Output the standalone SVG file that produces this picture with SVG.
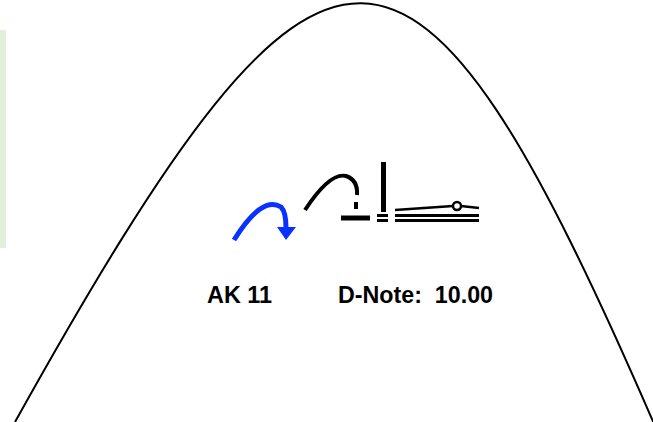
<svg xmlns="http://www.w3.org/2000/svg" width="653" height="422" viewBox="0 0 653 422">
<style>
.curve{fill:none;stroke:#000;stroke-width:2}
.sym{fill:none;stroke:#000;stroke-width:4}
.lbl{font-family:"Liberation Sans",Arial,sans-serif;font-weight:bold;font-size:23px;fill:#000}
</style>
<rect x="0" y="0" width="653" height="422" fill="#fff"/>
<g id="sidebar"><rect x="0" y="30" width="6" height="218" fill="#e2efda"/></g>
<g id="parabola"><path class="curve" d="M15,422 C328,-140 412,-134 655,426"/></g>
<g id="arrow">
<path d="M234,240 Q262,195 281,207 Q286,212 286,228" fill="none" stroke="#0a32ff" stroke-width="5"/>
<polygon points="277,227 296,227 286,240" fill="#0a32ff"/>
</g>
<g id="symbols">
<path class="sym" d="M305,210 Q330,172 346,176 Q358,180 357,195"/>
<line x1="356" y1="202" x2="356" y2="209" stroke="#000" stroke-width="4"/>
<line x1="341" y1="218" x2="370" y2="218" stroke="#000" stroke-width="5"/>
<line x1="383.5" y1="162" x2="383.5" y2="212" stroke="#000" stroke-width="5"/>
<line x1="377" y1="215.5" x2="388" y2="215.5" stroke="#000" stroke-width="3"/>
<line x1="377" y1="220.5" x2="388" y2="220.5" stroke="#000" stroke-width="3"/>
<line x1="395" y1="215.5" x2="479" y2="215.5" stroke="#000" stroke-width="3"/>
<line x1="395" y1="220.5" x2="479" y2="220.5" stroke="#000" stroke-width="3"/>
<path d="M395,210 L453,206 M461,206 L479,208" fill="none" stroke="#000" stroke-width="2.5"/>
<circle cx="457" cy="206" r="4" fill="none" stroke="#000" stroke-width="2.5"/>
</g>
<g id="labels">
<text class="lbl" x="207" y="303" textLength="65" lengthAdjust="spacingAndGlyphs">AK 11</text>
<text class="lbl" x="338" y="303" textLength="155" lengthAdjust="spacingAndGlyphs" xml:space="preserve">D-Note:  10.00</text>
</g>
</svg>
